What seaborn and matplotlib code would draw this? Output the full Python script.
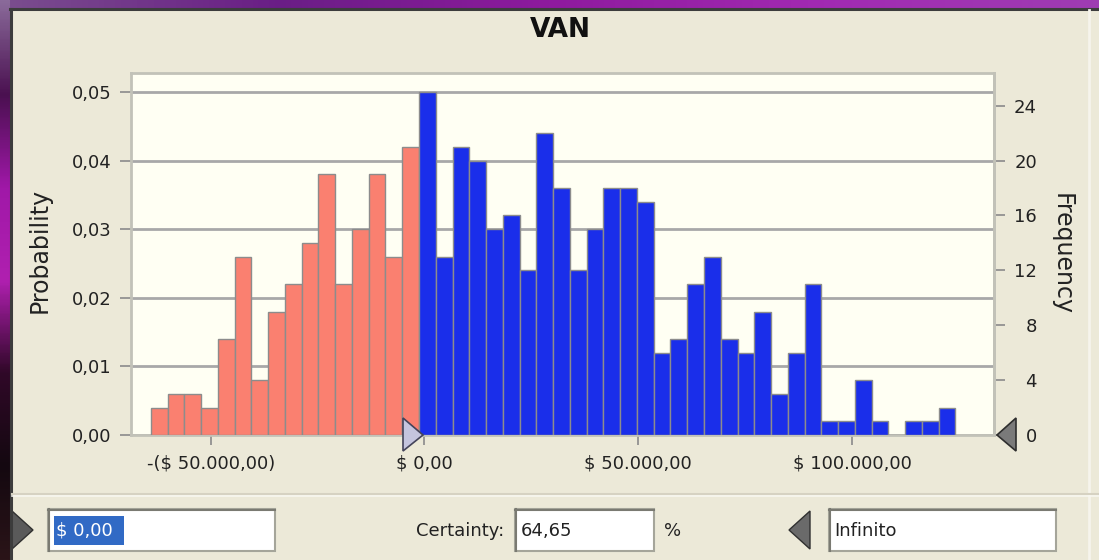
import numpy as np
import pandas as pd
import matplotlib
matplotlib.use("Agg")
import matplotlib.pyplot as plt
import seaborn as sns
from matplotlib.patches import Rectangle, Polygon
from matplotlib.colors import LinearSegmentedColormap

# ---------------- data ----------------
title = "VAN"
trials = 500
bin_start = -64000
bin_width = 3920
counts_below = [2, 3, 3, 2, 7, 13, 4, 9, 11, 14, 19, 11, 15, 19, 13, 21]
counts_above = [25, 13, 21, 20, 15, 16, 12, 22, 18, 12, 15, 18, 18, 17, 6, 7,
                11, 13, 7, 6, 9, 3, 6, 11, 1, 1, 4, 1, 0, 1, 1, 2]
x_tick_values = [-50000, 0, 50000, 100000]
x_tick_labels = ["-($ 50.000,00)", "$ 0,00", "$ 50.000,00", "$ 100.000,00"]
prob_ticks = [0.00, 0.01, 0.02, 0.03, 0.04, 0.05]
prob_tick_labels = ["0,00", "0,01", "0,02", "0,03", "0,04", "0,05"]
freq_ticks = [0, 4, 8, 12, 16, 20, 24]
lower_bound_text = "$ 0,00"
certainty_label = "Certainty:"
certainty_text = "64,65"
upper_bound_text = "Infinito"

# ---------------- derived ----------------
edges_below = bin_start + bin_width * np.arange(len(counts_below) + 1)
edges_above = edges_below[-1] + bin_width * np.arange(len(counts_above) + 1)
df_below = pd.DataFrame({"van": edges_below[:-1] + bin_width / 2,
                         "prob": np.array(counts_below) / trials})
df_above = pd.DataFrame({"van": edges_above[:-1] + bin_width / 2,
                         "prob": np.array(counts_above) / trials})

W, H = 1099, 560
plt.rcParams["font.family"] = ["DejaVu Sans"]
BG = "#ECE9D8"
TXT = "#222222"

fig = plt.figure(figsize=(W / 100, H / 100), dpi=100, facecolor=BG)

# background decoration layer (pixel coords)
bg = fig.add_axes([0, 0, 1, 1], zorder=-1)
bg.axis("off")
top_cmap = LinearSegmentedColormap.from_list("t", ["#7A4E8E", "#6A1E86", "#8E1A9E", "#A22AB2", "#9E3CB2"])
bg.imshow(np.linspace(0, 1, 200)[None, :], cmap=top_cmap, extent=(0, W, 8, 0), aspect="auto")
left_cmap = LinearSegmentedColormap.from_list("l", ["#8A6A9A", "#4A1050", "#A018A8", "#B020B0", "#300828", "#140810", "#2A1418"])
bg.imshow(np.linspace(0, 1, 200)[:, None], cmap=left_cmap, extent=(0, 10, H, 0), aspect="auto")
bg.add_patch(Rectangle((10, 8), W - 10, H - 8, facecolor=BG, edgecolor="none"))
bg.plot([10, W], [9, 9], color="#3C3C3C", lw=2.2)
bg.plot([11, 11], [9, H], color="#3C3C3C", lw=2.2)
bg.plot([1089, 1089], [10, H], color="#F6F4EC", lw=2)
bg.plot([12, W], [494, 494], color="#D6D2C2", lw=1.5)
bg.plot([12, W], [496, 496], color="#F8F7F0", lw=1.2)

# lower panel widgets
def field(x0, x1, y0, y1):
    bg.add_patch(Rectangle((x0, y0), x1 - x0, y1 - y0, facecolor="white", edgecolor="#A5A59A", lw=1.5))
    bg.plot([x0, x1], [y0 + 1, y0 + 1], color="#7A7A72", lw=1.5)
    bg.plot([x0 + 1, x0 + 1], [y0, y1], color="#7A7A72", lw=1.5)

field(48, 275, 509, 551)
bg.add_patch(Rectangle((54, 516), 70, 29, facecolor="#316AC5", edgecolor="none"))
bg.text(56, 531, lower_bound_text, color="white", fontsize=13, ha="left", va="center")
bg.add_patch(Polygon([(12, 511), (12, 549), (33, 530)], closed=True, facecolor="#5A5A5A", edgecolor="#303030", lw=1))
bg.text(460, 531, certainty_label, color=TXT, fontsize=13, ha="center", va="center")
field(515, 654, 509, 551)
bg.text(521, 531, certainty_text, color=TXT, fontsize=13, ha="left", va="center")
bg.text(673, 531, "%", color=TXT, fontsize=13, ha="center", va="center")
bg.add_patch(Polygon([(789, 530), (810, 511), (810, 549)], closed=True, facecolor="#6A6A6A", edgecolor="#303030", lw=1))
field(829, 1056, 509, 551)
bg.text(834, 531, upper_bound_text, color=TXT, fontsize=13, ha="left", va="center")
bg.set_xlim(0, W)
bg.set_ylim(H, 0)

# ---------------- main chart ----------------
ax = fig.add_axes([131 / W, (H - 435) / H, 863 / W, 362 / H], zorder=1)
ax.set_facecolor("#FFFFF3")
sns.histplot(data=df_below, x="van", weights="prob", bins=list(edges_below), color="#FA8070",
             edgecolor="#8C8C8C", linewidth=1, alpha=1, ax=ax, zorder=3)
sns.histplot(data=df_above, x="van", weights="prob", bins=list(edges_above), color="#1A2EEA",
             edgecolor="#8C8C8C", linewidth=1, alpha=1, ax=ax, zorder=3)

ax.set_xlim(-68630, 133170)
ax.set_ylim(0, 0.05277)
ax.set_xticks(x_tick_values)
ax.set_xticklabels(x_tick_labels)
ax.set_yticks(prob_ticks)
ax.set_yticklabels(prob_tick_labels)
ax.tick_params(axis="x", length=7, width=1.2, color="#8A8A8A", pad=7, labelsize=13, labelcolor=TXT)
ax.tick_params(axis="y", length=8, width=1.2, color="#8A8A8A", pad=6, labelsize=13, labelcolor=TXT)
ax.grid(axis="y", color="#A8A8A8", lw=2, zorder=0)
ax.grid(axis="x", visible=False)
ax.set_axisbelow(True)
for s in ax.spines.values():
    s.set_color("#C2C2B8")
    s.set_linewidth(2)
ax.set_xlabel("")
ax.set_ylabel("Probability", fontsize=17, color=TXT, va="center")
ax.yaxis.set_label_coords((40 - 131) / 863, (435 - 250) / 362)
ax.set_title(title, fontsize=19, fontweight="bold", color="#111111",
             x=(560 - 131) / 863, y=(435 - 30) / 362, va="center", pad=0)

sec = ax.secondary_yaxis("right", functions=(lambda p: p * trials, lambda f: f / trials))
sec.set_yticks(freq_ticks)
sec.tick_params(axis="y", length=8, width=1.2, color="#8A8A8A", pad=23, labelsize=13, labelcolor=TXT)
for lab in sec.get_yticklabels():
    lab.set_horizontalalignment("right")
sec.spines["right"].set_color("#C2C2B8")
sec.spines["right"].set_linewidth(2)
ax.text((1062 - 131) / 863, (435 - 254) / 362, "Frequency", transform=ax.transAxes,
        fontsize=17, color=TXT, rotation=270, ha="center", va="center")

# foreground markers (certainty grabbers)
fg = fig.add_axes([0, 0, 1, 1], zorder=3)
fg.axis("off")
fg.patch.set_alpha(0)
fg.add_patch(Polygon([(403, 418), (403, 451), (423, 435)], closed=True, facecolor="#C4C4DE", edgecolor="#44445A", lw=1.2))
fg.add_patch(Polygon([(997, 435), (1016, 418), (1016, 451)], closed=True, facecolor="#7A7A7A", edgecolor="#2E2E2E", lw=1.2))
fg.set_xlim(0, W)
fg.set_ylim(H, 0)

fig.savefig("out.png", dpi=100, facecolor=BG)
